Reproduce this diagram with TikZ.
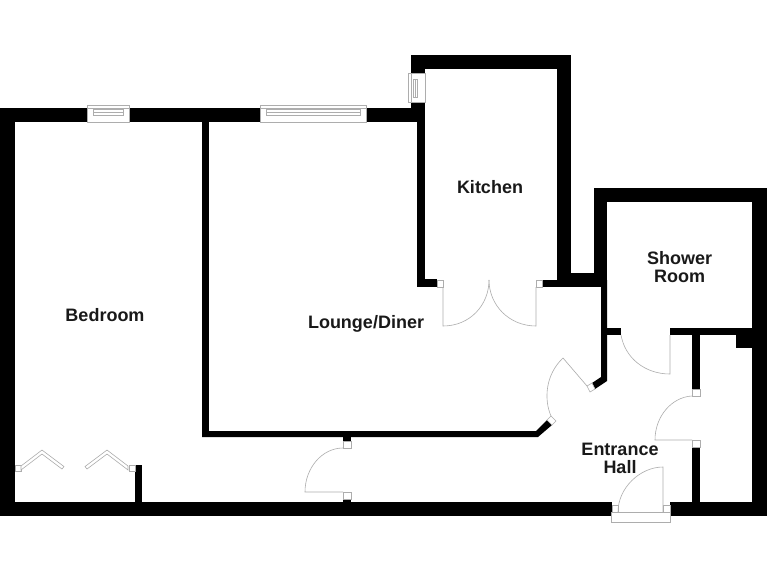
\documentclass[tikz,border=0pt]{standalone}
\usepackage{fontspec}
\setmainfont{Liberation Sans}
\tikzset{
  wall/.style={fill=black},
  fitting/.style={draw=black!32, line width=0.6pt, fill=white},
  swing/.style={draw=black!32, line width=0.6pt},
  roomlabel/.style={font=\bfseries\fontsize{18}{18.5}\selectfont, align=center, text=black!90, inner sep=0pt}
}
\begin{document}
\begin{tikzpicture}[x=1pt, y=-1pt]
  \useasboundingbox (0,0) rectangle (768,576);
  \fill[white] (0,0) rectangle (768,576);

  \node[roomlabel] (bedroom) at (105,315) {Bedroom};
  \node[roomlabel] (lounge) at (366,323.5) {Lounge/Diner};
  \node[roomlabel] (kitchen) at (490,187) {Kitchen};
  \node[roomlabel] (shower) at (679.5,267) {Shower\\Room};
  \node[roomlabel] (hall) at (620,458.5) {Entrance\\Hall};

  \fill[wall] (0,108) rectangle (15,516);
  \fill[wall] (0,502) rectangle (612,516);
  \fill[wall] (670,502) rectangle (767,516);
  \fill[wall] (0,108) rectangle (87,122);
  \fill[wall] (129,108) rectangle (260,122);
  \fill[wall] (366,108) rectangle (425,122);
  \fill[wall] (411,55) rectangle (571,69);
  \fill[wall] (411,55) rectangle (425,73);
  \fill[wall] (411,102) rectangle (425,122);
  \fill[wall] (417,122) rectangle (425,287);
  \fill[wall] (417,279) rectangle (437,287);
  \fill[wall] (557,55) rectangle (571,280);
  \fill[wall] (557,273) rectangle (607,280);
  \fill[wall] (542,280) rectangle (607,287);
  \fill[wall] (594,188) rectangle (767,202);
  \fill[wall] (594,188) rectangle (607,287);
  \fill[wall] (752,188) rectangle (767,516);
  \fill[wall] (601,280) -- (607,280) -- (607,381) -- (595,389) -- (592,383) -- (601,377) -- cycle;
  \fill[wall] (607,328) rectangle (621,335);
  \fill[wall] (670,328) rectangle (752,335);
  \fill[wall] (736,335) rectangle (752,348);
  \fill[wall] (692,335) rectangle (700,389);
  \fill[wall] (692,447) rectangle (700,502);
  \fill[wall] (202,122) rectangle (209,437);
  \fill[wall] (202,431) -- (536,431) -- (547,420) -- (552,425) -- (538,437) -- (202,437) -- cycle;
  \fill[wall] (343,437) rectangle (351,441);
  \fill[wall] (343,499) rectangle (351,502);
  \fill[wall] (135,465) rectangle (142,502);

  \draw[fitting] (87,105) rectangle (129,122);
  \draw[swing] (87,108) -- (129,108);
  \draw[fitting] (93,109) rectangle (123,115);
  \draw[swing] (93,112) -- (123,112);
  \draw[fitting] (260,105) rectangle (366,122);
  \draw[swing] (260,108) -- (366,108);
  \draw[fitting] (266,109) rectangle (360,115);
  \draw[swing] (266,112) -- (360,112);
  \draw[fitting] (408,73) rectangle (425,102);
  \draw[swing] (411,73) -- (411,102);
  \draw[fitting] (413,79) rectangle (417,97);
  \draw[swing] (415,79) -- (415,97);

  \draw[fitting] (437,280) rectangle (443,287);
  \draw[fitting] (536,280) rectangle (542,287);
  \draw[swing] (443,287) -- (443,326) .. controls (470,326) and (489,305) .. (489,280);
  \draw[swing] (536,287) -- (536,326) .. controls (509,326) and (489,305) .. (489,280);

  \draw[fitting] (592,383) -- (595,389) -- (590,392) -- (587,386) -- cycle;
  \draw[fitting] (547,420) -- (552,425) -- (556,421) -- (551,416) -- cycle;
  \draw[swing] (587,386) -- (563,358) .. controls (545,375) and (544,400) .. (551,416);

  \draw[fitting] (343,441) rectangle (351,448);
  \draw[fitting] (343,492) rectangle (351,499);
  \draw[swing] (343,448) .. controls (322,448) and (305,468) .. (305,492) -- (343,492);

  \draw[swing] (621,335) .. controls (625,358) and (645,374) .. (670,374) -- (670,335);

  \draw[fitting] (692,389) rectangle (700,396);
  \draw[fitting] (692,440) rectangle (700,447);
  \draw[swing] (692,396) .. controls (672,397) and (655,416) .. (655,440) -- (692,440);

  \draw[fitting] (611,512) rectangle (670,522);
  \draw[fitting] (612,505) rectangle (618,512);
  \draw[fitting] (663,505) rectangle (670,512);
  \draw[swing] (618,512) .. controls (618,488) and (640,467) .. (663,467) -- (663,512);

  \draw[fitting] (15,465) rectangle (21,471);
  \draw[fitting] (129,465) rectangle (135,471);
  \draw[fitting] (21,466) -- (42,450) -- (64,466.5) -- (62,469) -- (42,454) -- (21,470) -- cycle;
  \draw[fitting] (128,466) -- (107,450) -- (85,466.5) -- (87,469) -- (107,454) -- (128,470) -- cycle;
\end{tikzpicture}
\end{document}
